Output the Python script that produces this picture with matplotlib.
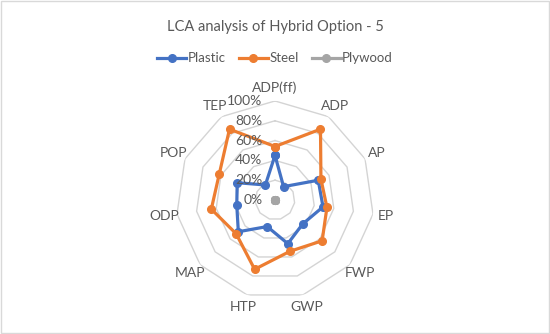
import numpy as np
import matplotlib
matplotlib.use("Agg")
import matplotlib.pyplot as plt
from matplotlib.patches import Rectangle

plt.rcParams['font.family'] = ['Lato', 'DejaVu Sans']

categories = ["ADP(ff)", "ADP", "AP", "EP", "FWP", "GWP", "HTP", "MAP", "ODP", "POP", "TEP"]
plastic = [0.45, 0.16, 0.48, 0.49, 0.37, 0.46, 0.28, 0.49, 0.39, 0.42, 0.18]
steel = [0.54, 0.85, 0.51, 0.53, 0.63, 0.54, 0.73, 0.52, 0.65, 0.62, 0.85]
plywood = [0, 0, 0, 0, 0, 0, 0, 0, 0, 0, 0]
rticks = [0, 0.2, 0.4, 0.6, 0.8, 1.0]
rtick_labels = ["0%", "20%", "40%", "60%", "80%", "100%"]
title = "LCA analysis of Hybrid Option - 5"

n = len(categories)
angles = np.linspace(0, 2 * np.pi, n, endpoint=False)
ang_c = np.append(angles, angles[0])

fig = plt.figure(figsize=(5.5, 3.34), dpi=100)
fig.patches.append(Rectangle((0.002, 0.003), 0.996, 0.994, transform=fig.transFigure,
                             fill=False, edgecolor='#d9d9d9', lw=1))
ax = fig.add_axes([0.32, 0.1048, 0.36, 0.593], projection='polar')
ax.set_theta_zero_location('N')
ax.set_theta_direction(-1)
ax.set_ylim(0, 1.0)
ax.grid(False)
ax.spines['polar'].set_visible(False)
ax.set_xticks([])
ax.set_yticks([])
ax.patch.set_alpha(0)

for r in rticks[1:]:
    ax.plot(ang_c, [r] * (n + 1), color='#d4d4d4', lw=1.0, zorder=1)

for r, lab in zip(rticks, rtick_labels):
    ax.annotate(lab, xy=(0, r), xytext=(-9, 0), textcoords='offset points',
                ha='right', va='center', fontsize=10, color='#595959', zorder=5)

for i, c in enumerate(categories):
    ax.text(angles[i], 1.13, c, ha='center', va='center', fontsize=10, color='#595959')

series = [("Plastic", plastic, '#4472C4'), ("Steel", steel, '#ED7D31'), ("Plywood", plywood, '#A5A5A5')]
handles = []
for name, vals, col in series:
    v = np.append(vals, vals[0])
    h, = ax.plot(ang_c, v, color=col, lw=2.3, marker='o', markersize=5.5, label=name, zorder=3,
                 clip_on=False)
    handles.append(h)

fig.text(0.5, 0.918, title, ha='center', va='center', fontsize=10.5, color='#595959')
fig.legend(handles=handles, loc='center', bbox_to_anchor=(0.5, 0.825), ncol=3, frameon=False,
           fontsize=9.5, handlelength=2.2, columnspacing=1.0, handletextpad=0.1, labelcolor='#595959')

fig.savefig("out.png", dpi=100)
